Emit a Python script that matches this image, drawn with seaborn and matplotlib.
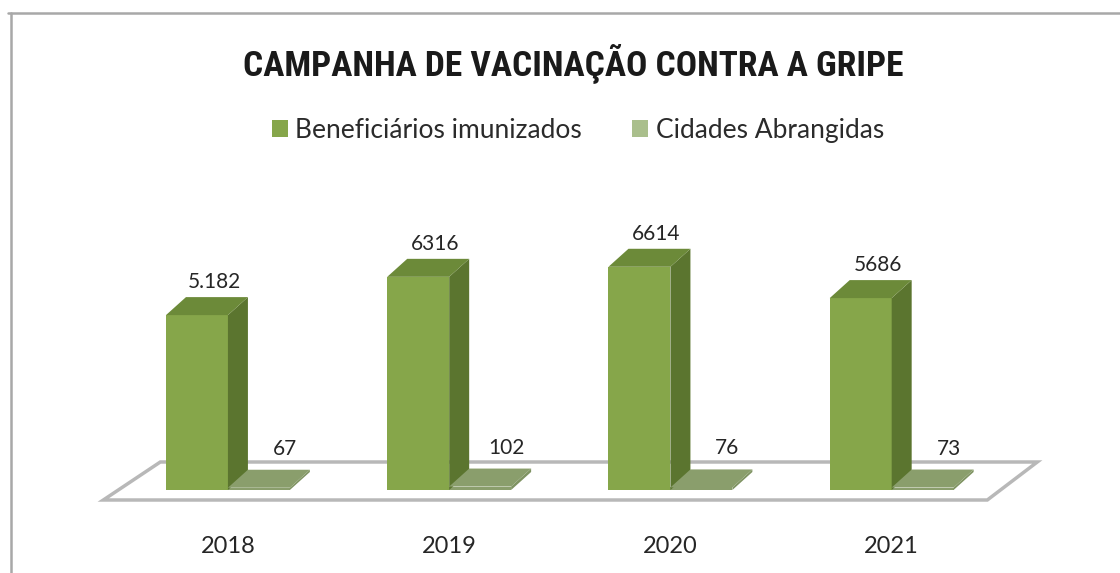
import numpy as np
import pandas as pd
import seaborn as sns
import matplotlib.pyplot as plt
from matplotlib import transforms
from matplotlib.patches import Polygon, Patch
from matplotlib.lines import Line2D

# dados
anos = ["2018", "2019", "2020", "2021"]
beneficiarios = [5182, 6316, 6614, 5686]
cidades = [67, 102, 76, 73]
rotulos_benef = ["5.182", "6316", "6614", "5686"]
rotulos_cid = ["67", "102", "76", "73"]
series = ["Beneficiários imunizados", "Cidades Abrangidas"]

# cores (frente, lateral, topo) de cada serie
cores = {
    series[0]: ("#86a64a", "#5b752f", "#6c8a39"),
    series[1]: ("#8a9e6c", "#7f9362", "#8a9e6c"),
}
cor_legenda = ["#86a64a", "#aabf8c"]

df = pd.DataFrame({
    "ano": anos * 2,
    "valor": beneficiarios + cidades,
    "serie": [series[0]] * len(anos) + [series[1]] * len(anos),
})

sns.set_style("white")
plt.rcParams["font.family"] = ["Lato", "DejaVu Sans"]

W, H = 1120, 573
fig = plt.figure(figsize=(W / 100, H / 100), dpi=100)
ax = fig.add_axes([117.3 / W, 83 / H, 885 / W, 270 / H])

sns.barplot(data=df, x="ano", y="valor", hue="serie",
            palette=[cores[s][0] for s in series], width=0.56,
            saturation=1, legend=False, linewidth=0, ax=ax)
ax.set_xlim(-0.5, len(anos) - 0.5)
ax.set_ylim(0, 8000)

# conversao pixel -> dados
ux = len(anos) / 885
uy = 8000 / 270
dx, dy = 20 * ux, 18 * uy

# piso
piso = Polygon([(-0.5 - 14 * ux, -10 * uy), (len(anos) - 0.5 - 15 * ux, -10 * uy),
                (len(anos) - 0.5 + 35 * ux, 28 * uy), (-0.5 + 43 * ux, 28 * uy)],
               closed=True, facecolor="white", edgecolor="#b8b8b8", lw=2.5,
               clip_on=False, zorder=0)
ax.add_patch(piso)

# faces 3d
for cont, s in zip(ax.containers, series):
    frente, lado, topo = cores[s]
    for bar in cont:
        x0, w, h = bar.get_x(), bar.get_width(), bar.get_height()
        bar.set_zorder(2)
        ax.add_patch(Polygon([(x0 + w, 0), (x0 + w + dx, dy), (x0 + w + dx, h + dy), (x0 + w, h)],
                             closed=True, facecolor=lado, lw=0, zorder=2))
        ax.add_patch(Polygon([(x0, h), (x0 + dx, h + dy), (x0 + w + dx, h + dy), (x0 + w, h)],
                             closed=True, facecolor=topo, lw=0, zorder=2))

# rotulos de valor
for bar, txt in zip(ax.containers[0], rotulos_benef):
    ax.annotate(txt, (bar.get_x() + bar.get_width() / 2, bar.get_height()),
                xytext=(17 * 0.72, 23 * 0.72), textcoords="offset points",
                ha="center", va="bottom", fontsize=15, color="#262626")
for bar, txt in zip(ax.containers[1], rotulos_cid):
    ax.annotate(txt, (bar.get_x() + bar.get_width() / 2, bar.get_height()),
                xytext=(26 * 0.72, 29 * 0.72), textcoords="offset points",
                ha="center", va="bottom", fontsize=15, color="#262626")

# eixos
ax.set_xticks(range(len(anos)))
ax.set_xticklabels(anos, fontsize=17, color="#262626")
desloc = transforms.ScaledTranslation(-16 / 100, 0, fig.dpi_scale_trans)
for lbl in ax.get_xticklabels():
    lbl.set_transform(lbl.get_transform() + desloc)
ax.tick_params(axis="x", length=0, pad=33)
ax.set_yticks([])
ax.set_xlabel("")
ax.set_ylabel("")
sns.despine(ax=ax, left=True, bottom=True)

# titulo e legenda
fig.text(573 / W, 1 - 63 / H, "CAMPANHA DE VACINAÇÃO CONTRA A GRIPE",
         ha="center", va="center", fontsize=25.5, fontweight="bold",
         family=["Roboto Condensed", "Lato", "DejaVu Sans"], color="#1a1a1a")
alcas = [Patch(facecolor=c, edgecolor="none") for c in cor_legenda]
fig.legend(alcas, series, loc="center", bbox_to_anchor=(578 / W, 1 - 130 / H),
           ncol=2, frameon=False, fontsize=19, handlelength=0.6, handleheight=0.6,
           handletextpad=0.3, columnspacing=1.9, labelcolor="#2b2b2b")

# borda
fig.add_artist(Line2D([8 / W, 1], [1 - 13 / H, 1 - 13 / H], color="#a8a8a8", lw=1.8))
fig.add_artist(Line2D([11 / W, 11 / W], [0, 1 - 13 / H], color="#a8a8a8", lw=1.8))

fig.savefig("out.png", dpi=100)
